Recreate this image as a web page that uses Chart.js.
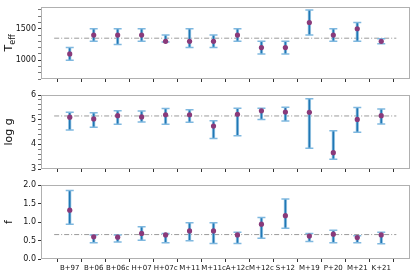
<!DOCTYPE html>
<html>
<head>
<meta charset="utf-8">
<script src="https://cdn.jsdelivr.net/npm/chart.js@4"></script>
<style>
  body { margin: 0; background: #fff; }
  .wrap { position: relative; width: 415px; height: 275px; }
  canvas { position: absolute; left: 0; }
</style>
</head>
<body>
<div class="wrap">
  <canvas id="c1" width="415" height="88" style="top:0"></canvas>
  <canvas id="c2" width="415" height="90" style="top:88px"></canvas>
  <canvas id="c3" width="415" height="97" style="top:178px"></canvas>
</div>
<script>
// Data -----------------------------------------------------------------
const labels = ['B+97', 'B+06', 'B+06c', 'H+07', 'H+07c', 'M+11', 'M+11c',
                'A+12c', 'M+12c', 'S+12', 'M+19', 'P+20', 'M+21', 'K+21'];

const teff   = [1100, 1400, 1400, 1400, 1300, 1300, 1300, 1400, 1200, 1200, 1600, 1400, 1500, 1300];
const teffLo = [1000, 1300, 1250, 1300, 1290, 1200, 1200, 1300, 1100, 1100, 1400, 1300, 1300, 1260];
const teffHi = [1200, 1500, 1500, 1500, 1400, 1500, 1400, 1500, 1300, 1300, 1800, 1500, 1600, 1340];
const teffRef = 1350;

const logg   = [5.10, 5.03, 5.16, 5.11, 5.20, 5.20, 4.74, 5.22, 5.36, 5.31, 5.30, 3.66, 5.01, 5.16];
const loggLo = [4.58, 4.69, 4.81, 4.91, 4.81, 4.90, 4.24, 4.35, 5.01, 4.95, 3.84, 3.40, 4.49, 4.82];
const loggHi = [5.30, 5.28, 5.36, 5.35, 5.45, 5.40, 4.96, 5.46, 5.46, 5.50, 5.85, 4.55, 5.49, 5.43];
const loggRef = 5.15;

const fVal = [1.32, 0.60, 0.59, 0.69, 0.65, 0.76, 0.76, 0.65, 0.94, 1.17, 0.62, 0.67, 0.58, 0.65];
const fLo  = [0.94, 0.44, 0.46, 0.51, 0.44, 0.49, 0.42, 0.42, 0.56, 0.83, 0.47, 0.44, 0.44, 0.41];
const fHi  = [1.85, 0.65, 0.65, 0.87, 0.69, 0.98, 0.98, 0.72, 1.12, 1.62, 0.69, 0.78, 0.63, 0.72];
const fRef = 0.66;

// x range padded a bit past the first/last category
const xMin = -0.65, xMax = 13.63;

const FONT = 'DejaVu Sans';

// Box round the plot area (all four spines)
const framePlugin = {
    id: 'frame',
    afterDraw(chart) {
        const a = chart.chartArea, ctx = chart.ctx;
        ctx.save();
        ctx.strokeStyle = '#b0b0b0';
        ctx.lineWidth = 1;
        ctx.strokeRect(Math.round(a.left) + 0.5, Math.round(a.top) + 0.5,
                       Math.round(a.right - a.left) - 1, Math.round(a.bottom - a.top) - 1);
        ctx.restore();
    }
};

// Rotated y title, with an optional subscript part
const yTitlePlugin = {
    id: 'yTitle',
    afterDraw(chart, args, opts) {
        const a = chart.chartArea, ctx = chart.ctx;
        const main = opts.text, sub = opts.sub || '';
        ctx.save();
        ctx.fillStyle = '#111';
        ctx.font = '11px "' + FONT + '"';
        const w1 = ctx.measureText(main).width;
        ctx.font = '8px "' + FONT + '"';
        const w2 = sub ? ctx.measureText(sub).width : 0;
        const total = w1 + w2;
        ctx.translate(opts.x, (a.top + a.bottom) / 2);
        ctx.rotate(-Math.PI / 2);
        ctx.textBaseline = 'alphabetic';
        ctx.textAlign = 'left';
        ctx.font = '11px "' + FONT + '"';
        ctx.fillText(main, -total / 2, 0);
        if (sub) {
            ctx.font = '8px "' + FONT + '"';
            ctx.fillText(sub, -total / 2 + w1, 3);
        }
        ctx.restore();
    }
};

function makePanel(id, vals, lo, hi, ref, yOpts, title, showX, pad) {
    const ctx = document.getElementById(id).getContext('2d');
    const idx = labels.map((_, i) => i);

    return new Chart(ctx, {
        type: 'scatter',
        data: {
            datasets: [
                {   // dash-dot reference line
                    type: 'line',
                    data: [{ x: xMin, y: ref }, { x: xMax, y: ref }],
                    borderColor: '#9a9a9a',
                    borderWidth: 1,
                    borderDash: [5, 2, 1, 2],
                    pointRadius: 0,
                    order: 4
                },
                {   // error bar stems
                    type: 'bar',
                    data: idx.map(i => ({ x: i, y: [lo[i], hi[i]] })),
                    backgroundColor: '#1f77b4',
                    borderColor: 'rgba(140,190,225,0.8)',
                    borderWidth: { left: 1, right: 1, top: 0, bottom: 0 },
                    borderSkipped: false,
                    barThickness: 3,
                    order: 3
                },
                {   // caps
                    data: idx.flatMap(i => [{ x: i, y: lo[i] }, { x: i, y: hi[i] }]),
                    pointStyle: 'line',
                    pointRadius: 4,
                    borderColor: '#7fb8df',
                    borderWidth: 1.5,
                    order: 2
                },
                {   // values
                    data: idx.map(i => ({ x: i, y: vals[i] })),
                    pointRadius: 2.6,
                    backgroundColor: '#8a3a7a',
                    borderWidth: 0,
                    order: 1
                }
            ]
        },
        options: {
            responsive: false,
            animation: false,
            layout: { padding: { top: pad.top, right: 4, bottom: 0, left: 0 } },
            plugins: {
                legend: { display: false },
                tooltip: { enabled: false },
                yTitle: title
            },
            scales: {
                x: {
                    type: 'linear',
                    min: xMin,
                    max: xMax,
                    border: { display: false },
                    grid: { drawOnChartArea: false, tickLength: 3, tickColor: '#333' },
                    ticks: {
                        stepSize: 1,
                        includeBounds: false,
                        autoSkip: false,
                        maxRotation: 0,
                        padding: 2,
                        color: '#111',
                        font: { family: FONT, size: 7 },
                        callback: v => showX ? (labels[v] || '') : ''
                    },
                    afterFit: s => { s.height = pad.xh; }
                },
                y: {
                    min: yOpts.min,
                    max: yOpts.max,
                    border: { display: false },
                    grid: {
                        drawOnChartArea: false,
                        tickLength: 3,
                        tickColor: c => yOpts.isMajor(c.tick.value) ? '#333' : '#777'
                    },
                    ticks: {
                        stepSize: yOpts.step,
                        includeBounds: false,
                        autoSkip: false,
                        padding: 2,
                        color: '#111',
                        font: { family: FONT, size: 8 },
                        callback: v => yOpts.isMajor(v) ? yOpts.fmt(v) : ''
                    },
                    afterFit: s => { s.width = 41; }
                }
            }
        },
        plugins: [framePlugin, yTitlePlugin]
    });
}

const near = (v, m) => Math.abs(v / m - Math.round(v / m)) < 1e-6;

makePanel('c1', teff, teffLo, teffHi, teffRef,
    { min: 700, max: 1850, step: 100, isMajor: v => near(v, 500), fmt: v => String(Math.round(v)) },
    { text: 'T', sub: 'eff', x: 12 }, false, { top: 5, xh: 9 });

makePanel('c2', logg, loggLo, loggHi, loggRef,
    { min: 3, max: 6, step: 0.2, isMajor: v => near(v, 1), fmt: v => String(Math.round(v)) },
    { text: 'log g', x: 12 }, false, { top: 7, xh: 9 });

makePanel('c3', fVal, fLo, fHi, fRef,
    { min: 0, max: 2, step: 0.5, isMajor: v => true, fmt: v => v.toFixed(1) },
    { text: 'f', x: 12 }, true, { top: 7, xh: 16 });
</script>
</body>
</html>
